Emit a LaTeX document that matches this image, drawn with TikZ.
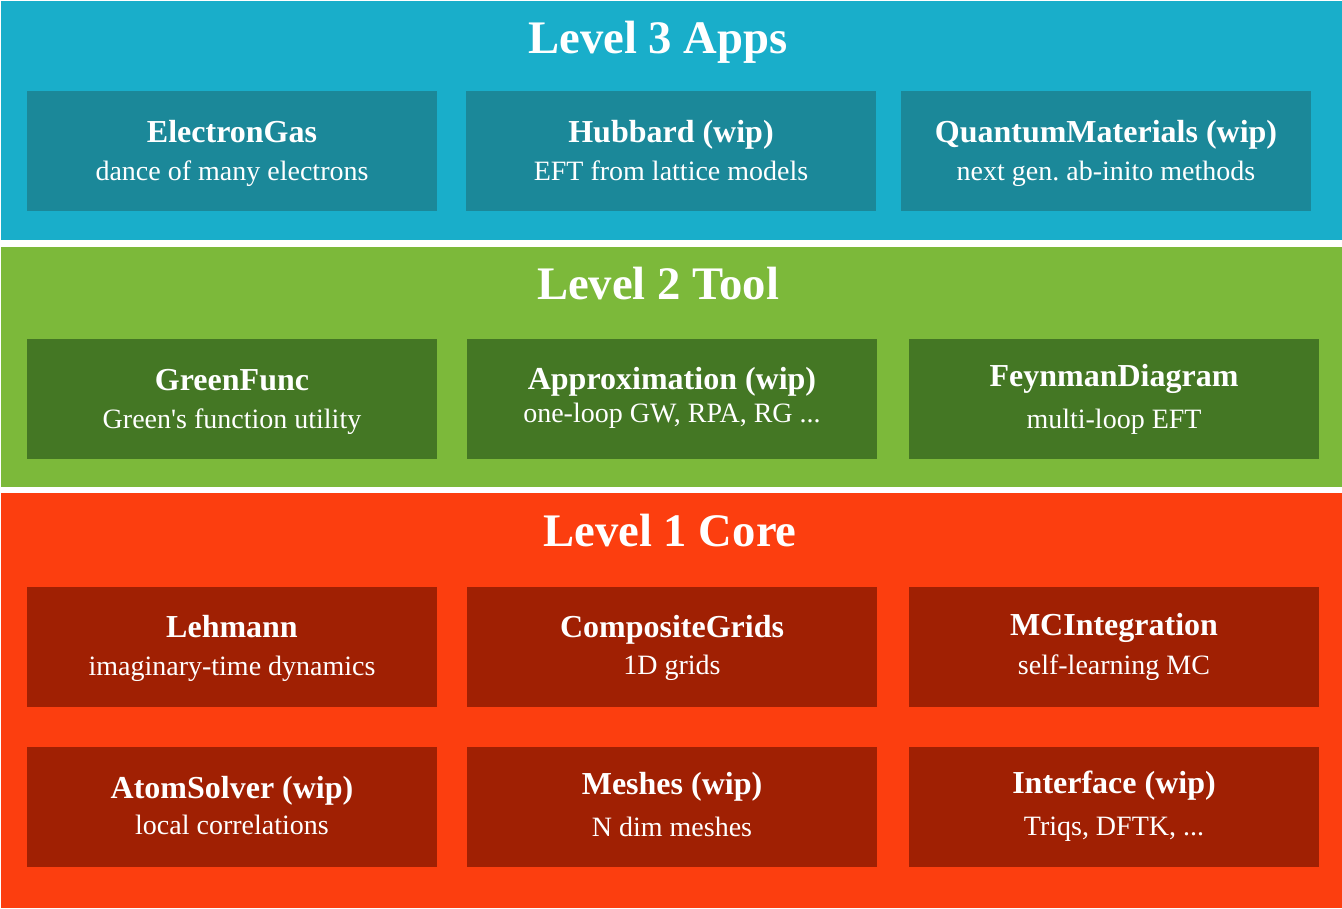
\documentclass[tikz,border=0pt]{standalone}
\usepackage{fontspec}
\setmainfont{Liberation Serif}
\frenchspacing

% layer colours
\definecolor{appband}{RGB}{25,174,202}
\definecolor{appbox}{RGB}{27,136,153}
\definecolor{toolband}{RGB}{124,185,58}
\definecolor{toolbox}{RGB}{68,119,36}
\definecolor{coreband}{RGB}{252,62,15}
\definecolor{corebox}{RGB}{160,32,3}

% one package box: name, left x, top y, title, subtitle, title baseline, subtitle baseline
\newcommand{\pkgbox}[7]{%
  \node[pkg] (#1) at (#2+205,#3+60) {};
  \node[pkgtitle] (#1-t) at (#2+205,#3+#6) {#4};
  \node[pkgsub] (#1-s) at (#2+205,#3+#7) {#5};
}

\begin{document}
\begin{tikzpicture}[
  x=0.75pt, y=-0.75pt,
  pkg/.style={draw=none, minimum width=307.5pt, minimum height=90pt, inner sep=0pt},
  pkgtitle/.style={anchor=base, inner sep=0pt, text=white,
    font=\fontsize{24}{28}\selectfont\bfseries},
  pkgsub/.style={anchor=base, inner sep=0pt, text=white,
    font=\fontsize{21}{25}\selectfont},
  heading/.style={anchor=base, inner sep=0pt, text=white,
    font=\fontsize{35}{40}\selectfont\bfseries},
]
\useasboundingbox[fill=white] (0,0) rectangle (1342,908);

% the three layers
\fill[appband]  (1,1)   rectangle (1342,240);
\fill[toolband] (1,247) rectangle (1342,487);
\fill[coreband] (1,493) rectangle (1342,908);

\node[heading] (l3) at (658,53)  {Level 3 Apps};
\node[heading] (l2) at (658,299) {Level 2 Tool};
\node[heading] (l1) at (670,546) {Level 1 Core};

% level 3
\begin{scope}[pkg/.append style={fill=appbox}]
  \pkgbox{egas}{27}{91}{ElectronGas}{dance of many electrons}{51}{89}
  \pkgbox{hubbard}{466}{91}{Hubbard (wip)}{EFT from lattice models}{51}{89}
  \pkgbox{qmat}{901}{91}{QuantumMaterials (wip)}{next gen. ab-inito methods}{51}{89}
\end{scope}

% level 2
\begin{scope}[pkg/.append style={fill=toolbox}]
  \pkgbox{green}{27}{339}{GreenFunc}{Green\textquotesingle s function utility}{51}{89}
  \pkgbox{approx}{467}{339}{Approximation (wip)}{one-loop GW, RPA, RG ...}{50}{83}
  \pkgbox{feyn}{909}{339}{FeynmanDiagram}{multi-loop EFT}{47}{89}
\end{scope}

% level 1
\begin{scope}[pkg/.append style={fill=corebox}]
  \pkgbox{lehmann}{27}{587}{Lehmann}{imaginary-time dynamics}{50}{88}
  \pkgbox{grids}{467}{587}{CompositeGrids}{1D grids}{50}{87}
  \pkgbox{mcint}{909}{587}{MCIntegration}{self-learning MC}{48}{87}
  \pkgbox{atom}{27}{747}{AtomSolver (wip)}{local correlations}{51}{87}
  \pkgbox{meshes}{467}{747}{Meshes (wip)}{N dim meshes}{47}{89}
  \pkgbox{iface}{909}{747}{Interface (wip)}{Triqs, DFTK, ...}{46}{88}
\end{scope}
\end{tikzpicture}
\end{document}
